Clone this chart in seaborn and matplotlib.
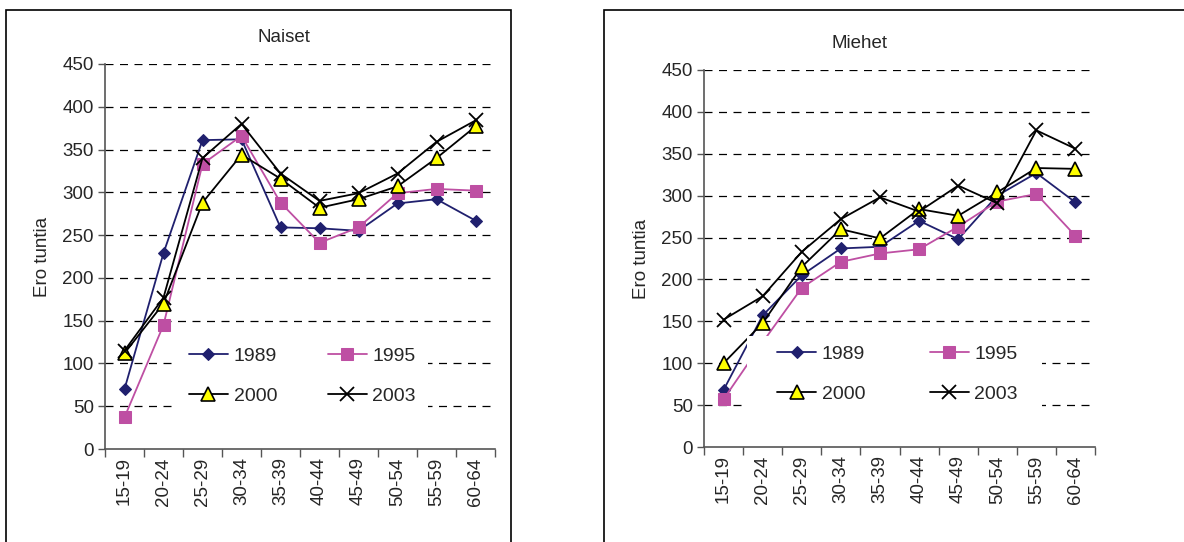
import matplotlib
matplotlib.use("Agg")
import matplotlib.pyplot as plt
from matplotlib.patches import Rectangle
from matplotlib.ticker import FixedLocator, NullFormatter
import seaborn as sns
import numpy as np
import pandas as pd

sns.set_theme(style="white")
plt.rcParams["font.family"] = ["Liberation Sans", "DejaVu Sans"]

# ---------------------------------------------------------------------------
# data
# ---------------------------------------------------------------------------
age_groups = ["15-19", "20-24", "25-29", "30-34", "35-39",
              "40-44", "45-49", "50-54", "55-59", "60-64"]
years = ["1989", "1995", "2000", "2003"]

naiset_1989 = [70, 229, 361, 362, 259, 258, 255, 287, 292, 267]
naiset_1995 = [37, 145, 333, 366, 288, 241, 259, 299, 304, 302]
naiset_2000 = [112, 170, 288, 344, 316, 282, 292, 307, 340, 377]
naiset_2003 = [115, 177, 340, 380, 322, 290, 299, 322, 359, 384]

miehet_1989 = [68, 157, 205, 237, 239, 270, 248, 300, 327, 292]
miehet_1995 = [57, 125, 190, 221, 231, 236, 263, 293, 302, 252]
miehet_2000 = [100, 148, 215, 260, 249, 284, 276, 304, 333, 332]
miehet_2003 = [152, 180, 233, 272, 298, 281, 312, 291, 378, 356]

yticks = [0, 50, 100, 150, 200, 250, 300, 350, 400, 450]

# styles per year
styles = {
    "1989": dict(color="#20206E", marker="D", markersize=6.5,
                 markerfacecolor="#20206E", markeredgecolor="#20206E"),
    "1995": dict(color="#BE4FA3", marker="s", markersize=9,
                 markerfacecolor="#BE4FA3", markeredgecolor="#BE4FA3"),
    "2000": dict(color="black", marker="^", markersize=10,
                 markerfacecolor="#FFFF00", markeredgecolor="black",
                 markeredgewidth=1.2),
    "2003": dict(color="black", marker="x", markersize=10.5,
                 markerfacecolor="black", markeredgecolor="black",
                 markeredgewidth=1.3),
}


def long_frame(series):
    rows = []
    for year, vals in zip(years, series):
        for i, v in enumerate(vals):
            rows.append({"pos": i, "age": age_groups[i], "year": year, "value": v})
    return pd.DataFrame(rows)


df_n = long_frame([naiset_1989, naiset_1995, naiset_2000, naiset_2003])
df_m = long_frame([miehet_1989, miehet_1995, miehet_2000, miehet_2003])

fig = plt.figure(figsize=(11.84, 5.42), dpi=100)

# outer frames around each chart (Excel-like chart area borders)
fig.patches.append(Rectangle((6 / 1184, -0.05), 505 / 1184, (532 / 542) + 0.05,
                             transform=fig.transFigure, fill=False,
                             edgecolor="black", linewidth=1.2))
fig.patches.append(Rectangle((604 / 1184, -0.05), 0.6, (532 / 542) + 0.05,
                             transform=fig.transFigure, fill=False,
                             edgecolor="black", linewidth=1.2))

ax_n = fig.add_axes([105 / 1184, 93 / 542, 390 / 1184, 385 / 542])
ax_m = fig.add_axes([704 / 1184, 95 / 542, 391 / 1184, 377 / 542])


def draw_panel(ax, df, title, title_x, legend_center, legend_box, colspace):
    for year in years:
        sub = df[df["year"] == year]
        sns.lineplot(data=sub, x="pos", y="value", ax=ax, label=year,
                     linewidth=1.3, **styles[year])

    ax.set_xlim(-0.5, len(age_groups) - 0.5)
    ax.set_ylim(0, 450)
    ax.set_yticks(yticks)
    ax.set_yticklabels([str(t) for t in yticks], fontsize=13.5)

    # category labels at centres, tick marks at boundaries
    ax.xaxis.set_major_locator(FixedLocator(np.arange(-0.5, len(age_groups), 1.0)))
    ax.xaxis.set_major_formatter(NullFormatter())
    ax.xaxis.set_minor_locator(FixedLocator(np.arange(len(age_groups))))
    ax.set_xticklabels(age_groups, minor=True, rotation=90, fontsize=13.5)
    ax.tick_params(axis="x", which="major", length=6, width=1, color="#555555",
                   direction="out", bottom=True)
    ax.tick_params(axis="x", which="minor", length=0, pad=6)
    ax.tick_params(axis="y", length=5, width=1, color="#555555",
                   direction="out", left=True, pad=3)

    for y in yticks[1:]:
        ax.axhline(y, color="black", linewidth=0.9, linestyle=(0, (6.4, 5.2)),
                   zorder=0)

    for side in ["top", "right"]:
        ax.spines[side].set_visible(False)
    for side in ["left", "bottom"]:
        ax.spines[side].set_color("#555555")
        ax.spines[side].set_linewidth(1.2)

    ax.set_xlabel("")
    ax.set_ylabel("Ero tuntia", fontsize=13.5, labelpad=8)
    ax.set_title(title, fontsize=13.5, pad=16, x=title_x)

    # white legend area that hides grid and lines underneath
    x0, y0, x1, y1 = legend_box
    ax.add_patch(Rectangle((x0, y0), x1 - x0, y1 - y0, transform=ax.transAxes,
                           facecolor="white", edgecolor="none", zorder=4))

    # row order like the reference: 1989 1995 / 2000 2003
    handles, labels = ax.get_legend_handles_labels()
    order = [0, 2, 1, 3]
    leg = ax.legend([handles[i] for i in order], [labels[i] for i in order],
                    ncol=2, loc="center", bbox_to_anchor=legend_center,
                    fontsize=14, frameon=False, handlelength=2.0,
                    columnspacing=colspace, labelspacing=1.15, borderpad=0.3,
                    handletextpad=0.3)
    leg.set_zorder(5)


draw_panel(ax_n, df_n, "Naiset", 0.46, (0.506, 0.19),
           (0.172, 0.088, 0.828, 0.305), 2.6)
draw_panel(ax_m, df_m, "Miehet", 0.397, (0.495, 0.194),
           (0.110, 0.093, 0.864, 0.294), 3.3)

fig.savefig("out.png", dpi=100)
